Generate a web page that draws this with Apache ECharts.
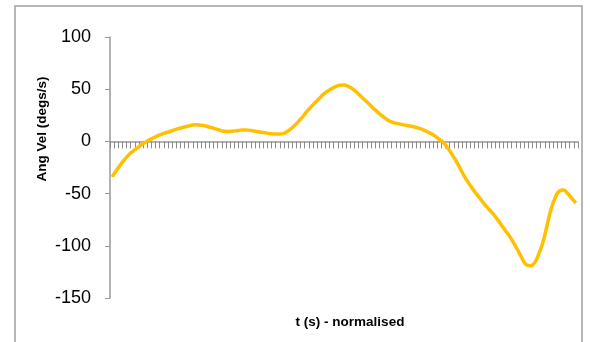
<!DOCTYPE html>
<html><head><meta charset="utf-8">
<script src="https://cdn.jsdelivr.net/npm/echarts@6/dist/echarts.min.js"></script>
<style>html,body{margin:0;padding:0;background:#fff}#c{width:590px;height:342px}</style>
</head><body><div id="c"></div>
<script>
const angVel = [-34,-28,-22.5,-17.5,-13,-9.5,-6.5,-3.5,-1,1.5,3.5,5.3,7,8.3,9.5,11,12.3,13.3,14.3,15.3,
16,15.8,15.2,14.3,13.2,12,10.8,9.8,9.5,9.8,10.3,10.8,11,10.8,10.2,9.5,8.8,8.2,7.6,7.2,
7,7.2,8.8,11.5,15,19,23.5,28.5,33,37,41,45,48,50.5,52.5,53.8,54,52.8,50.5,47.3,
43.5,39.8,36,32,28.5,25,22,19.5,18,17,16.2,15.5,14.7,13.8,12.7,11.3,9.5,7.5,5,2,
-1,-6,-12,-18.5,-25.5,-33,-39.5,-45,-50.5,-55.5,-60.5,-65,-69.5,-74.5,-80,-85.5,-91,-97.5,-104.5,-112,
-118,-119,-116.5,-108,-97,-81,-65,-54,-47.5,-46.5,-50,-54.5,-59];
const categories = angVel.map((_, i) => String(i + 1));
const yMin = -150, yMax = 100, yStep = 50;
const xTitle = 't (s) - normalised';
const yTitle = 'Ang Vel (degs/s)';

const chart = echarts.init(document.getElementById('c'));
chart.setOption({
  animation: false,
  grid: {left: 110, right: 12, top: 37, bottom: 44, containLabel: false, outerBoundsMode: 'none'},
  graphic: [
    {type: 'rect', shape: {x: 15, y: 6, width: 567, height: 360},
     style: {fill: 'none', stroke: '#a0a0a0', lineWidth: 1.5}, z: -1},
    {type: 'text', x: 42, y: 129, rotation: Math.PI / 2,
     style: {text: yTitle, font: 'bold 13.5px "Liberation Sans", sans-serif', fill: '#000',
             align: 'center', verticalAlign: 'middle'}},
    {type: 'text', x: 350, y: 322,
     style: {text: xTitle, font: 'bold 13.5px "Liberation Sans", sans-serif', fill: '#000',
             align: 'center', verticalAlign: 'middle'}}
  ],
  xAxis: {
    type: 'category', data: categories, boundaryGap: true,
    axisLine: {onZero: true, lineStyle: {color: '#999', width: 1.5}},
    axisTick: {show: true, interval: 0, length: 7, lineStyle: {color: '#8c8c8c'}},
    axisLabel: {show: false, interval: 0},
    splitLine: {show: false}
  },
  yAxis: {
    type: 'value', min: yMin, max: yMax, interval: yStep,
    axisLine: {show: true, lineStyle: {color: '#999', width: 1.5}},
    axisTick: {show: true, length: 5, lineStyle: {color: '#999'}},
    axisLabel: {margin: 19, fontFamily: 'Liberation Sans', fontSize: 18, color: '#000'},
    splitLine: {show: false}
  },
  series: [{
    type: 'line', data: angVel, smooth: true, showSymbol: false,
    lineStyle: {color: '#FFC000', width: 3.5}, itemStyle: {color: '#FFC000'}
  }]
});
</script></body></html>
